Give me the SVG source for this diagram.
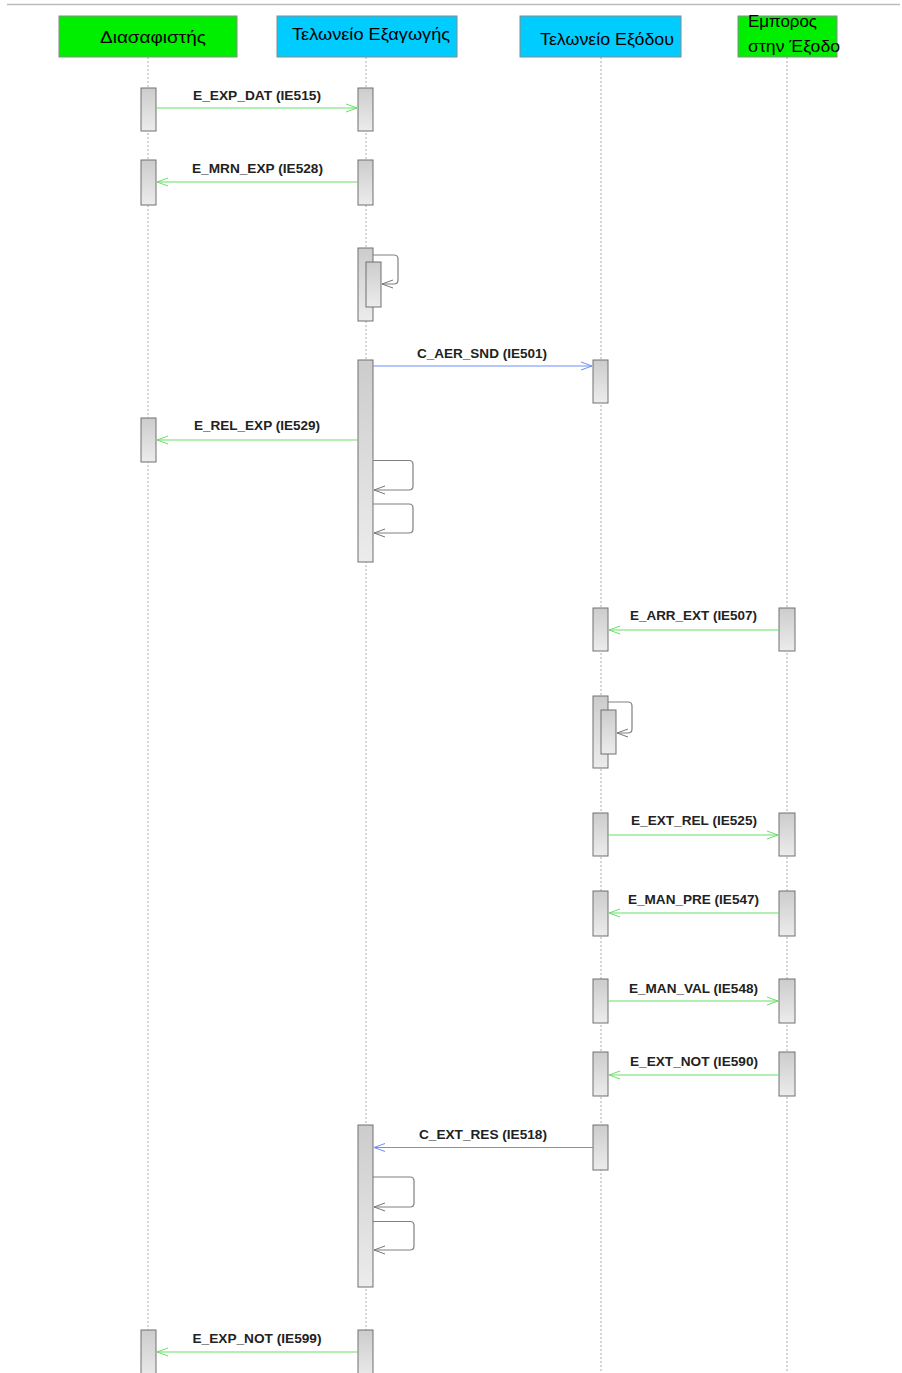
<svg xmlns="http://www.w3.org/2000/svg" width="902" height="1373" viewBox="0 0 902 1373">
<defs>
<linearGradient id="act" x1="0" y1="0" x2="0" y2="1">
<stop offset="0" stop-color="#cccccc"/>
<stop offset="1" stop-color="#ececec"/>
</linearGradient>
<marker id="ag" markerWidth="12" markerHeight="10" refX="11" refY="5" orient="auto" markerUnits="userSpaceOnUse">
<path d="M0,1 L11,5 L0,9" fill="none" stroke="#66e066" stroke-width="1"/>
</marker>
<marker id="ab" markerWidth="12" markerHeight="10" refX="11" refY="5" orient="auto" markerUnits="userSpaceOnUse">
<path d="M0,1 L11,5 L0,9" fill="none" stroke="#6f8ff7" stroke-width="1"/>
</marker>
<marker id="ak" markerWidth="12" markerHeight="10" refX="11" refY="5" orient="auto" markerUnits="userSpaceOnUse">
<path d="M0,1 L11,5 L0,9" fill="none" stroke="#777" stroke-width="1"/>
</marker>
</defs>
<style>
.hdr{stroke:#8a8a8a;stroke-width:1}
.g{fill:#00ee00}
.c{fill:#00ccff}
.ht{font-family:"Liberation Sans",Arial,sans-serif;font-size:17px;fill:#000}
.life{stroke:#aaaaaa;stroke-width:1;stroke-dasharray:2,2;fill:none}
.act{fill:url(#act);stroke:#707070;stroke-width:1}
.mg{stroke:#66e066;stroke-width:1.2;fill:none;marker-end:url(#ag)}
.mb{stroke:#6f8ff7;stroke-width:1.2;fill:none;marker-end:url(#ab)}
.self{stroke:#808080;stroke-width:1.2;fill:none;marker-end:url(#ak)}
.lbl{font-family:"Liberation Sans",Arial,sans-serif;font-size:12.5px;font-weight:bold;fill:#222;text-anchor:middle}
</style>
<rect width="902" height="1373" fill="#ffffff"/>
<line x1="7" y1="4.5" x2="900" y2="4.5" stroke="#bbbbbb" stroke-width="1.5"/>

<g id="lifelines">
<line class="life" x1="148" y1="57" x2="148" y2="1373"/>
<line class="life" x1="366" y1="57" x2="366" y2="1373"/>
<line class="life" x1="601" y1="57" x2="601" y2="1373"/>
<line class="life" x1="787" y1="57" x2="787" y2="1373"/>
</g>

<g id="node-diasafistis">
<rect class="hdr g" x="59" y="16" width="178" height="41"/>
<text class="ht" x="100" y="43" textLength="106" lengthAdjust="spacingAndGlyphs">Διασαφιστής</text>
</g>
<g id="node-telonio-exagogis">
<rect class="hdr c" x="277" y="16" width="180" height="41"/>
<text class="ht" x="292" y="39.5" textLength="158" lengthAdjust="spacingAndGlyphs">Τελωνείο Εξαγωγής</text>
</g>
<g id="node-telonio-exodou">
<rect class="hdr c" x="520" y="16" width="161" height="41"/>
<text class="ht" x="540" y="45" textLength="134" lengthAdjust="spacingAndGlyphs">Τελωνείο Εξόδου</text>
</g>
<g id="node-emporos">
<rect class="hdr g" x="738" y="16" width="99" height="41"/>
<text class="ht" x="748" y="27" font-size="16" textLength="69" lengthAdjust="spacingAndGlyphs">Εμπορος</text>
<text class="ht" x="748" y="52" font-size="16" textLength="92" lengthAdjust="spacingAndGlyphs">στην Έξοδο</text>
</g>

<g id="activations">
<rect class="act" x="141" y="88" width="15" height="43"/>
<rect class="act" x="358" y="88" width="15" height="43"/>
<rect class="act" x="141" y="160" width="15" height="45"/>
<rect class="act" x="358" y="160" width="15" height="45"/>
<rect class="act" x="358" y="248" width="15" height="73"/>
<rect class="act" x="366" y="262" width="15" height="45"/>
<rect class="act" x="358" y="360" width="15" height="202"/>
<rect class="act" x="593" y="360" width="15" height="43"/>
<rect class="act" x="141" y="418" width="15" height="44"/>
<rect class="act" x="593" y="608" width="15" height="43"/>
<rect class="act" x="779" y="608" width="16" height="43"/>
<rect class="act" x="593" y="696" width="15" height="72"/>
<rect class="act" x="601" y="710" width="15" height="44"/>
<rect class="act" x="593" y="813" width="15" height="43"/>
<rect class="act" x="779" y="813" width="16" height="43"/>
<rect class="act" x="593" y="891" width="15" height="45"/>
<rect class="act" x="779" y="891" width="16" height="45"/>
<rect class="act" x="593" y="979" width="15" height="44"/>
<rect class="act" x="779" y="979" width="16" height="44"/>
<rect class="act" x="593" y="1052" width="15" height="44"/>
<rect class="act" x="779" y="1052" width="16" height="44"/>
<rect class="act" x="358" y="1125" width="15" height="162"/>
<rect class="act" x="593" y="1125" width="15" height="45"/>
<rect class="act" x="141" y="1330" width="15" height="50"/>
<rect class="act" x="358" y="1330" width="15" height="50"/>
</g>

<g id="connectors">
<line class="mg" x1="156" y1="108" x2="357" y2="108"/>
<line class="mg" x1="358" y1="182" x2="157" y2="182"/>
<path class="self" d="M373,255 H394 Q398,255 398,259 V280 Q398,284 394,284 H382"/>
<line class="mb" x1="373" y1="366" x2="592" y2="366"/>
<line class="mg" x1="358" y1="440" x2="157" y2="440"/>
<path class="self" d="M373,460.5 H409 Q413,460.5 413,464.5 V486 Q413,490 409,490 H374"/>
<path class="self" d="M373,504 H409 Q413,504 413,508 V529 Q413,533 409,533 H374"/>
<line class="mg" x1="779" y1="630" x2="609" y2="630"/>
<path class="self" d="M608,702 H628 Q632,702 632,706 V729 Q632,733 628,733 H617"/>
<line class="mg" x1="608" y1="835" x2="778" y2="835"/>
<line class="mg" x1="779" y1="913" x2="609" y2="913"/>
<line class="mg" x1="608" y1="1001" x2="778" y2="1001"/>
<line class="mg" x1="779" y1="1075" x2="609" y2="1075"/>
<line class="mb" x1="593" y1="1147.5" x2="374" y2="1147.5"/>
<path class="self" d="M373,1177 H410 Q414,1177 414,1181 V1203 Q414,1207 410,1207 H374"/>
<path class="self" d="M373,1221.5 H410 Q414,1221.5 414,1225.5 V1246 Q414,1250 410,1250 H374"/>
<line class="mg" x1="358" y1="1352" x2="157" y2="1352"/>
</g>

<g id="labels">
<text class="lbl" x="257" y="100" textLength="128" lengthAdjust="spacingAndGlyphs">E_EXP_DAT (IE515)</text>
<text class="lbl" x="257.5" y="173" textLength="131" lengthAdjust="spacingAndGlyphs">E_MRN_EXP (IE528)</text>
<text class="lbl" x="482" y="357.5" textLength="130" lengthAdjust="spacingAndGlyphs">C_AER_SND (IE501)</text>
<text class="lbl" x="257" y="430" textLength="126" lengthAdjust="spacingAndGlyphs">E_REL_EXP (IE529)</text>
<text class="lbl" x="693.5" y="620" textLength="127" lengthAdjust="spacingAndGlyphs">E_ARR_EXT (IE507)</text>
<text class="lbl" x="694" y="825" textLength="126" lengthAdjust="spacingAndGlyphs">E_EXT_REL (IE525)</text>
<text class="lbl" x="693.5" y="904" textLength="131" lengthAdjust="spacingAndGlyphs">E_MAN_PRE (IE547)</text>
<text class="lbl" x="693.5" y="993" textLength="129" lengthAdjust="spacingAndGlyphs">E_MAN_VAL (IE548)</text>
<text class="lbl" x="694" y="1066" textLength="128" lengthAdjust="spacingAndGlyphs">E_EXT_NOT (IE590)</text>
<text class="lbl" x="483" y="1139" textLength="128" lengthAdjust="spacingAndGlyphs">C_EXT_RES (IE518)</text>
<text class="lbl" x="257" y="1343" textLength="129" lengthAdjust="spacingAndGlyphs">E_EXP_NOT (IE599)</text>
</g>
</svg>
